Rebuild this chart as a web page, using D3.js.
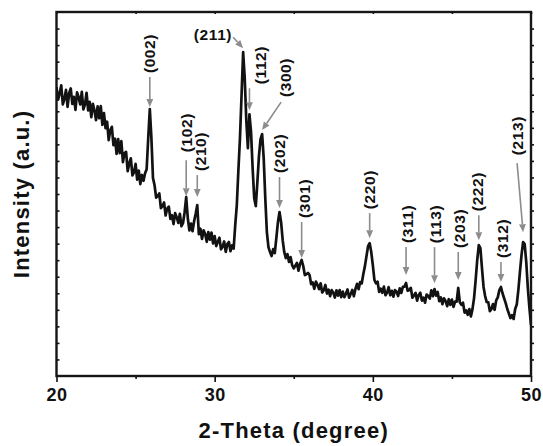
<!DOCTYPE html>
<html>
<head>
<meta charset="utf-8">
<script src="https://cdn.jsdelivr.net/npm/d3@7"></script>
<style>
  body { margin: 0; background: #fff; }
  text { font-family: Arial, "Liberation Sans", sans-serif; font-weight: bold; fill: #111; }
</style>
</head>
<body>
<div id="chart"></div>
<script>
// XRD scan, sampled every 0.1 degree from 20 to 50 (2-Theta)
const START_ANGLE = 20;
const STEP = 0.1;
const intensity = [
  1745, 1670, 1708, 1757, 1642, 1675, 1729, 1627, 1710, 1738, // 20
  1645, 1687, 1608, 1714, 1685, 1641, 1717, 1612, 1642, 1712, // 21
  1605, 1657, 1564, 1645, 1606, 1546, 1630, 1558, 1631, 1518, // 22
  1589, 1498, 1537, 1426, 1485, 1506, 1395, 1434, 1343, 1432, // 23
  1347, 1420, 1293, 1346, 1355, 1238, 1285, 1316, 1212, 1230, // 24
  1282, 1187, 1242, 1160, 1215, 1180, 1225, 1250, 1438, 1613, // 25
  1438, 1196, 1153, 1078, 1088, 1103, 1015, 1027, 1049, 970,  // 26
  1012, 1024, 950, 972, 918, 984, 960, 925, 980, 905,         // 27
  925, 990, 1081, 955, 880, 921, 875, 935, 980, 1033,         // 28
  857, 890, 828, 880, 858, 811, 870, 824, 867, 801,           // 29
  845, 785, 811, 836, 766, 781, 813, 750, 797, 810,           // 30
  754, 790, 770, 912, 1033, 1244, 1438, 1697, 1957, 1800,     // 31
  1546, 1377, 1582, 1474, 1256, 1075, 1027, 1172, 1329, 1431, // 32
  1462, 1317, 1075, 870, 779, 749, 725, 767, 743, 834,        // 33
  930, 991, 930, 821, 749, 713, 737, 689, 719, 670,           // 34
  650, 667, 683, 637, 678, 701, 665, 610, 615, 623,           // 35
  610, 555, 565, 527, 570, 551, 525, 560, 505, 519,           // 36
  550, 498, 522, 482, 519, 504, 474, 518, 486, 519,           // 37
  476, 510, 476, 498, 523, 473, 496, 520, 482, 526,           // 38
  557, 525, 568, 560, 616, 664, 725, 785, 803, 749,           // 39
  670, 580, 560, 570, 508, 528, 503, 540, 488, 504,           // 40
  537, 488, 515, 479, 519, 509, 483, 530, 502, 539,           // 41
  540, 562, 515, 520, 533, 473, 487, 502, 455, 490,           // 42
  503, 456, 474, 443, 492, 483, 468, 518, 483, 525,           // 43
  486, 508, 452, 475, 434, 469, 453, 422, 464, 430,           // 44
  462, 418, 450, 450, 532, 445, 430, 443, 383, 397,           // 45
  370, 404, 360, 404, 471, 580, 701, 791, 773, 652,           // 46
  538, 483, 447, 445, 392, 405, 435, 400, 457, 475,           // 47
  519, 538, 500, 470, 440, 405, 378, 350, 368, 345,           // 48
  405, 432, 519, 628, 731, 809, 797, 689, 532, 411,           // 49
  308                                                         // 50
];

const peakLabels = ["(002)", "(102)", "(210)", "(211)", "(112)", "(300)", "(202)", "(301)",
  "(220)", "(311)", "(113)", "(203)", "(222)", "(312)", "(213)"];
const peakAngles = [25.9, 28.2, 28.9, 31.8, 32.2, 33.0, 34.1, 35.5, 39.8, 42.1, 43.9, 45.4, 46.7, 48.1, 49.5];

const xTicks = [20, 30, 40, 50];
const xMinorTicks = [25, 35, 45];

// arrow / label placement for each peak (pixels, relative to the peak)
const LABEL_LAYOUT = [
  { gap: 2, ax: 0, ay: -30, dx: 0, lg: 4 },
  { gap: 1, ax: 0, ay: -36, dx: 0, lg: 8 },
  { gap: 8, ax: 0, ay: -22, dx: 3, lg: 4 },
  { gap: 4, ax: -10, ay: -11, flat: true },
  { gap: 4, ax: 0, ay: -22, dx: 11, lg: 4 },
  { gap: 4, ax: 19, ay: -28, dx: 4, lg: 5 },
  { gap: 4, ax: 0, ay: -31, dx: 0, lg: 4 },
  { gap: 2, ax: 0, ay: -36, dx: 2.5, lg: 4 },
  { gap: 5, ax: 0, ay: -25, dx: 0, lg: 4 },
  { gap: 8, ax: 0, ay: -28, dx: 1, lg: 4 },
  { gap: 6, ax: 0, ay: -36, dx: 1, lg: 4 },
  { gap: 8, ax: 0, ay: -28, dx: 1, lg: 4 },
  { gap: 5, ax: 0, ay: -25, dx: -1, lg: 4 },
  { gap: 5, ax: 0, ay: -20, dx: 1, lg: 4 },
  { gap: 10, ax: -6, ay: -69, dx: 0, lg: 8 }
];

const MARGIN = { TOP: 12, BOTTOM: 70, LEFT: 56.5, RIGHT: 12 };
const WIDTH = 543 - MARGIN.LEFT - MARGIN.RIGHT;
const HEIGHT = 446 - MARGIN.TOP - MARGIN.BOTTOM;

const svg = d3.select("#chart")
  .append("svg")
  .attr("width", 543)
  .attr("height", 446);

const g = svg.append("g")
  .attr("transform", `translate(${MARGIN.LEFT}, ${MARGIN.TOP})`);

const x = d3.scaleLinear().domain([20, 50]).range([0, WIDTH]);
const y = d3.scaleLinear().domain([0, 2200]).range([HEIGHT, 0]);

const points = intensity.map((v, i) => [START_ANGLE + i * STEP, v]);

/** axes: ticks only, the frame is drawn as a rect */
function styleAxis(sel) {
  sel.select(".domain").remove();
  sel.selectAll(".tick line").attr("stroke", "#111").attr("stroke-width", 1.6);
}

g.append("g")
  .attr("transform", `translate(0, ${HEIGHT})`)
  .call(d3.axisBottom(x).tickValues(xTicks).tickSize(6).tickPadding(6).tickFormat(d3.format("d")))
  .call(styleAxis)
  .call((a) => a.selectAll("text")
    .attr("font-size", 18).attr("letter-spacing", 0.5).attr("font-family", null).attr("fill", "#111"));

g.append("g")
  .attr("transform", `translate(0, ${HEIGHT})`)
  .call(d3.axisBottom(x).tickValues(xMinorTicks).tickSize(3).tickFormat(""))
  .call(styleAxis);

g.append("g")
  .call(d3.axisTop(x).tickValues(xTicks.concat(xMinorTicks)).tickSize(-2).tickFormat(""))
  .call(styleAxis);

g.append("g")
  .call(d3.axisLeft(y).tickValues(d3.range(100, 2200, 100)).tickSize(-3).tickFormat(""))
  .call(styleAxis);

g.append("g")
  .attr("transform", `translate(${WIDTH}, 0)`)
  .call(d3.axisRight(y).tickValues(d3.range(100, 2200, 100)).tickSize(3).tickFormat(""))
  .call(styleAxis);

// data curve
g.append("clipPath").attr("id", "plot-clip")
  .append("rect").attr("width", WIDTH).attr("height", HEIGHT);

g.append("path")
  .datum(points)
  .attr("clip-path", "url(#plot-clip)")
  .attr("fill", "none")
  .attr("stroke", "#121212")
  .attr("stroke-width", 2.7)
  .attr("stroke-linejoin", "round")
  .attr("d", d3.line().x((d) => x(d[0])).y((d) => y(d[1])));

g.append("rect")
  .attr("width", WIDTH)
  .attr("height", HEIGHT)
  .attr("fill", "none")
  .attr("stroke", "#161616")
  .attr("stroke-width", 2.4);

// peak annotations
const ARROW_COLOR = "#8c8c8c";
const notes = g.append("g");

peakAngles.forEach((angle, i) => {
  const L = LABEL_LAYOUT[i];
  const peakI = intensity[Math.round((angle - START_ANGLE) / STEP)];
  const tx = x(angle);
  const ty = y(peakI) - L.gap;
  const sx = tx + L.ax;
  const sy = ty + L.ay;

  // shaft stops at the head base so the tip stays sharp
  const len = Math.hypot(L.ax, L.ay);
  const ux = -L.ax / len, uy = -L.ay / len;
  const HEAD = 8, HALF = 3.4;
  const bx = tx - ux * HEAD, by = ty - uy * HEAD;

  notes.append("line")
    .attr("x1", sx).attr("y1", sy)
    .attr("x2", bx).attr("y2", by)
    .attr("stroke", ARROW_COLOR)
    .attr("stroke-width", 1.6);

  notes.append("path")
    .attr("d", `M${tx},${ty}L${bx - uy * HALF},${by + ux * HALF}L${bx + uy * HALF},${by - ux * HALF}Z`)
    .attr("fill", ARROW_COLOR);

  const label = notes.append("text")
    .text(peakLabels[i])
    .attr("font-size", 15.5)
    .attr("letter-spacing", 0.6);

  if (L.flat) {
    label.attr("text-anchor", "end")
      .attr("x", sx - 1)
      .attr("y", sy + 1)
      .attr("dy", "0.1em");
  } else {
    label.attr("text-anchor", "start")
      .attr("dy", "0.36em")
      .attr("transform", `translate(${sx + L.dx}, ${sy - L.lg}) rotate(-90)`);
  }
});

// axis titles
svg.append("text")
  .attr("x", MARGIN.LEFT + WIDTH / 2)
  .attr("y", 438)
  .attr("text-anchor", "middle")
  .attr("font-size", 22)
  .attr("letter-spacing", 1.2)
  .text("2-Theta  (degree)");

svg.append("text")
  .attr("text-anchor", "middle")
  .attr("font-size", 22)
  .attr("letter-spacing", 1.2)
  .attr("dy", "0.36em")
  .attr("transform", "translate(21, 194) rotate(-90)")
  .text("Intensity  (a.u.)");
</script>
</body>
</html>
